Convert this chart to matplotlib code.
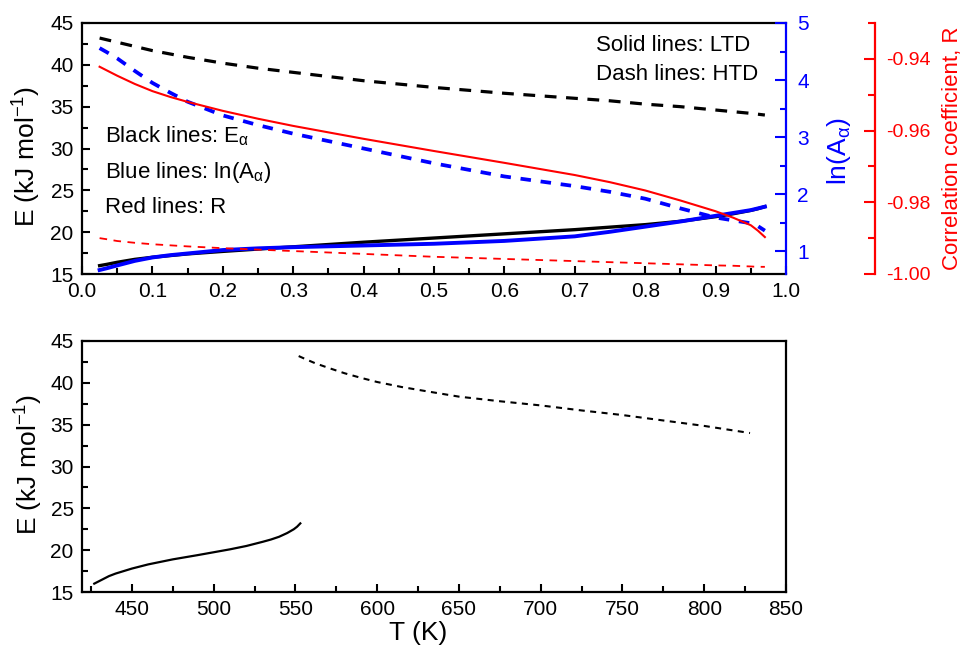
import matplotlib
matplotlib.use("Agg")
import matplotlib.pyplot as plt
from matplotlib.ticker import MultipleLocator, FormatStrFormatter

plt.rcParams['font.family'] = ['Liberation Sans', 'DejaVu Sans']
plt.rcParams['mathtext.fontset'] = 'custom'
plt.rcParams['mathtext.rm'] = 'Liberation Sans'
plt.rcParams['mathtext.it'] = 'Liberation Sans:italic'
plt.rcParams['mathtext.bf'] = 'Liberation Sans:bold'
plt.rcParams['axes.unicode_minus'] = False

# ---------------- data ----------------
alpha = [0.025, 0.035, 0.05, 0.075, 0.1, 0.125, 0.15, 0.2, 0.25, 0.3, 0.4, 0.5,
         0.6, 0.7, 0.75, 0.8, 0.85, 0.9, 0.925, 0.95, 0.96, 0.97]

E_LTD = [16.0, 16.15, 16.4, 16.75, 17.0, 17.2, 17.4, 17.7, 17.98, 18.25, 18.8, 19.3,
         19.8, 20.3, 20.6, 20.9, 21.3, 21.85, 22.2, 22.6, 22.8, 23.05]
E_HTD = [43.2, 43.0, 42.7, 42.2, 41.7, 41.3, 40.9, 40.2, 39.6, 39.1, 38.1, 37.3,
         36.6, 36.0, 35.7, 35.3, 35.0, 34.6, 34.4, 34.2, 34.1, 34.0]

lnA_LTD = [0.67, 0.70, 0.75, 0.83, 0.89, 0.93, 0.96, 1.02, 1.05, 1.07, 1.10, 1.13,
           1.18, 1.26, 1.34, 1.43, 1.52, 1.62, 1.67, 1.72, 1.75, 1.78]
lnA_HTD = [4.56, 4.49, 4.38, 4.16, 3.95, 3.78, 3.62, 3.38, 3.21, 3.06, 2.80, 2.54,
           2.31, 2.14, 2.04, 1.92, 1.75, 1.59, 1.54, 1.49, 1.44, 1.36]

R_LTD = [-0.9422, -0.9432, -0.9447, -0.9470, -0.9490, -0.9506, -0.9520, -0.9545, -0.9567,
         -0.9587, -0.9623, -0.9657, -0.9690, -0.9724, -0.9744, -0.9767, -0.9795, -0.9825,
         -0.9843, -0.9864, -0.9879, -0.9897]
R_HTD = [-0.9900, -0.9903, -0.9908, -0.9913, -0.9917, -0.9920, -0.9923, -0.9928, -0.9932,
         -0.9936, -0.9944, -0.9952, -0.9958, -0.9964, -0.9967, -0.9970, -0.9973, -0.9976,
         -0.9977, -0.9979, -0.9980, -0.9980]

T_LTD = [427, 429, 432, 436, 440, 445, 450, 460, 475, 490, 500, 510, 520, 530, 535, 540,
         545, 549, 551, 553]
ET_LTD = [16.0, 16.2, 16.5, 16.9, 17.2, 17.5, 17.8, 18.3, 18.9, 19.4, 19.75, 20.1, 20.5,
          21.0, 21.27, 21.6, 22.05, 22.5, 22.8, 23.2]
T_HTD = [552, 556, 562, 570, 580, 590, 600, 615, 630, 650, 675, 700, 725, 750, 775, 800, 828]
ET_HTD = [43.2, 42.85, 42.35, 41.8, 41.15, 40.6, 40.1, 39.5, 39.0, 38.35, 37.8, 37.3,
          36.7, 36.15, 35.5, 34.85, 34.0]

E_label = 'E (kJ mol$^{\\mathrm{-1}}$)'

# ---------------- figure ----------------
W, H = 963, 648
fig = plt.figure(figsize=(W / 100, H / 100), dpi=100)
ax1 = fig.add_axes([82 / W, 1 - 274 / H, 704 / W, 251 / H])
ax2 = fig.add_axes([82 / W, 1 - 592 / H, 704 / W, 251 / H])

TICK_FS = 15
SPINE_W = 1.6
LABEL_FS = 19

def style_main(ax):
    for s in ax.spines.values():
        s.set_linewidth(SPINE_W)
    ax.tick_params(which='both', direction='in', top=False, right=False,
                   width=1.5, labelsize=TICK_FS)
    ax.tick_params(which='major', length=6, pad=6)
    ax.tick_params(which='minor', length=4)
    ax.tick_params(axis='x', which='major', pad=6)

# ---- top panel ----
ax1.plot(alpha, E_HTD, color='black', lw=2.3, dashes=(3.7, 3.0))
ax1.plot(alpha, E_LTD, color='black', lw=2.4)
ax1.set_xlim(0.0, 1.0)
ax1.set_ylim(15, 45)
ax1.xaxis.set_major_locator(MultipleLocator(0.1))
ax1.xaxis.set_minor_locator(MultipleLocator(0.05))
ax1.xaxis.set_major_formatter(FormatStrFormatter('%.1f'))
ax1.yaxis.set_major_locator(MultipleLocator(5))
ax1.yaxis.set_minor_locator(MultipleLocator(2.5))
style_main(ax1)
ax1.spines['right'].set_visible(False)
ax1.set_ylabel(E_label, fontsize=LABEL_FS)
ax1.yaxis.set_label_coords(-0.055, 0.47)

# blue axis
axb = ax1.twinx()
axb.plot(alpha, lnA_HTD, color='#0000ff', lw=2.7, dashes=(2.8, 2.6))
axb.plot(alpha, lnA_LTD, color='#0000ff', lw=2.8)
axb.set_ylim(0.6, 5)
axb.yaxis.set_major_locator(MultipleLocator(1))
axb.yaxis.set_minor_locator(MultipleLocator(0.5))
for k in ['left', 'top', 'bottom']:
    axb.spines[k].set_visible(False)
axb.spines['right'].set_color('#0000ff')
axb.spines['right'].set_linewidth(SPINE_W)
axb.tick_params(which='both', direction='in', colors='#0000ff', width=1.5, labelsize=TICK_FS)
axb.tick_params(which='major', length=8, pad=8)
axb.tick_params(which='minor', length=4)
axb.set_ylabel('ln(A$_{\\mathrm{α}}$)', fontsize=LABEL_FS, color='#0000ff')
axb.yaxis.set_label_coords(1.055, 0.49)

# red axis
axr = ax1.twinx()
axr.plot(alpha, R_LTD, color='#ff0000', lw=1.5)
axr.plot(alpha, R_HTD, color='#ff0000', lw=1.3, dashes=(4.2, 3.6))
axr.set_ylim(-1.00, -0.93)
axr.yaxis.set_major_locator(MultipleLocator(0.02))
axr.yaxis.set_minor_locator(MultipleLocator(0.01))
axr.yaxis.set_major_formatter(FormatStrFormatter('%.2f'))
for k in ['left', 'top', 'bottom']:
    axr.spines[k].set_visible(False)
axr.spines['right'].set_position(('axes', 1.126))
axr.spines['right'].set_color('#ff0000')
axr.spines['right'].set_linewidth(SPINE_W)
axr.tick_params(which='both', direction='in', colors='#ff0000', width=1.5, labelsize=14)
axr.tick_params(which='major', length=8, pad=8)
axr.tick_params(which='minor', length=5)
axr.set_ylabel('Correlation coefficient, R', fontsize=16, color='#ff0000')
axr.yaxis.set_label_coords(1.222, 0.50)

# annotations
TXT_FS = 16
ax1.text(0.730, 0.890, 'Solid lines: LTD', transform=ax1.transAxes, fontsize=TXT_FS, va='baseline', ha='left')
ax1.text(0.730, 0.773, 'Dash lines: HTD', transform=ax1.transAxes, fontsize=TXT_FS, va='baseline', ha='left')
ax1.text(0.033, 0.523, 'Black lines: E$_{\\mathrm{α}}$', transform=ax1.transAxes, fontsize=TXT_FS, va='baseline')
ax1.text(0.033, 0.381, 'Blue lines: ln(A$_{\\mathrm{α}}$)', transform=ax1.transAxes, fontsize=TXT_FS, va='baseline')
ax1.text(0.033, 0.242, 'Red lines: R', transform=ax1.transAxes, fontsize=TXT_FS, va='baseline')

# ---- bottom panel ----
ax2.plot(T_LTD, ET_LTD, color='black', lw=1.6)
ax2.plot(T_HTD, ET_HTD, color='black', lw=1.5, dashes=(2.9, 2.6))
ax2.set_xlim(419.5, 850)
ax2.set_ylim(15, 45)
ax2.xaxis.set_minor_locator(MultipleLocator(25))
ax2.set_xticks([450, 500, 550, 600, 650, 700, 750, 800, 850])
ax2.yaxis.set_major_locator(MultipleLocator(5))
ax2.yaxis.set_minor_locator(MultipleLocator(2.5))
style_main(ax2)
ax2.set_ylabel(E_label, fontsize=LABEL_FS)
ax2.yaxis.set_label_coords(-0.052, 0.51)
ax2.set_xlabel('T (K)', fontsize=LABEL_FS)
ax2.xaxis.set_label_coords(0.477, -0.115)

fig.savefig('out.png', dpi=100)
